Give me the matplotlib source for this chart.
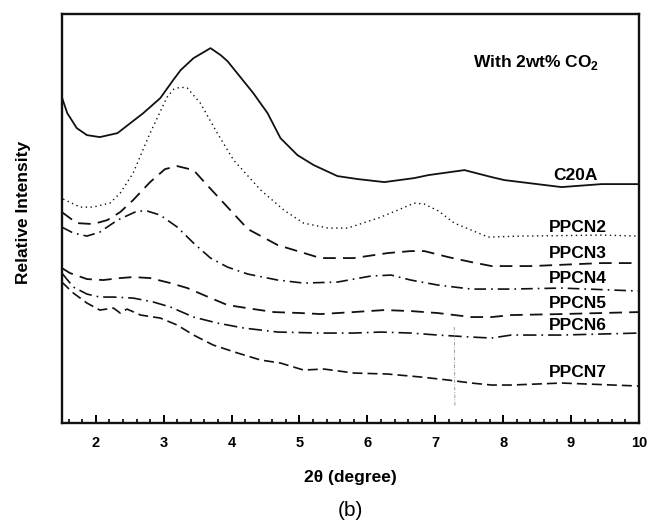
import matplotlib
matplotlib.use("Agg")
import matplotlib.pyplot as plt
from matplotlib.ticker import MultipleLocator

plt.rcParams['font.family'] = ['Liberation Sans', 'DejaVu Sans']
plt.rcParams['mathtext.fontset'] = 'custom'
plt.rcParams['mathtext.rm'] = 'Liberation Sans'
plt.rcParams['mathtext.bf'] = 'Liberation Sans:bold'

# ---- data (2theta in degrees, intensity in arbitrary units) ----
c20a_x = [1.50, 1.58, 1.72, 1.87, 2.06, 2.32, 2.70, 2.95, 3.14, 3.25, 3.44, 3.69, 3.84, 3.94,
          4.13, 4.32, 4.53, 4.72, 4.97, 5.21, 5.56, 5.86, 6.25, 6.69, 6.90, 7.43, 7.83,
          8.02, 8.86, 9.45, 10.0]
c20a_y = [326, 310, 295, 288, 286, 290, 310, 325, 343, 353, 365, 375, 368, 362,
          346, 330, 310, 285, 268, 258, 247, 244, 241, 245, 248, 253, 246,
          243, 236, 239, 239]

ppcn2_x = [1.52, 1.77, 1.96, 2.21, 2.36, 2.55, 2.80, 3.05, 3.15, 3.25, 3.35, 3.54, 3.79, 4.03,
           4.43, 4.77, 5.06, 5.42, 5.71, 6.16, 6.45, 6.69, 6.84, 7.05, 7.28, 7.78, 8.27,
           9.45, 10.0]
ppcn2_y = [224, 216, 216, 220, 230, 250, 290, 326, 334, 336, 335, 320, 290, 263,
           233, 213, 200, 195, 195, 205, 213, 220, 219, 212, 200, 186, 187,
           188, 187]

ppcn3_x = [1.50, 1.72, 1.96, 2.17, 2.36, 2.55, 2.80, 3.02, 3.20, 3.44, 3.64, 3.94, 4.24,
           4.68, 5.02, 5.31, 5.80, 6.30, 6.64, 6.84, 7.19, 7.53, 7.83, 8.42, 9.45, 10.0]
ppcn3_y = [211, 200, 199, 203, 211, 223, 241, 254, 257, 253, 238, 216, 194,
           178, 171, 165, 165, 170, 172, 172, 166, 161, 157, 157, 160, 160]

ppcn4_x = [1.50, 1.67, 1.87, 2.06, 2.32, 2.61, 2.76, 2.95, 3.20, 3.44, 3.69, 3.94,
           4.24, 4.68, 5.06, 5.56, 6.05, 6.35, 6.64, 7.04, 7.53, 8.12, 8.86, 10.0]
ppcn4_y = [196, 190, 187, 191, 203, 212, 212, 208, 196, 180, 165, 156,
           149, 143, 140, 141, 147, 148, 143, 138, 134, 134, 135, 132]

ppcn5_x = [1.50, 1.62, 1.87, 2.11, 2.36, 2.55, 2.80, 3.10, 3.35, 3.59, 3.94, 4.32,
           4.62, 5.02, 5.31, 5.80, 6.25, 6.64, 7.04, 7.53, 7.83, 8.12, 8.86, 10.0]
ppcn5_y = [155, 150, 144, 143, 145, 146, 145, 140, 135, 128, 118, 114,
           111, 110, 109, 111, 113, 112, 110, 106, 106, 108, 109, 111]

ppcn6_x = [1.50, 1.67, 1.87, 2.06, 2.26, 2.55, 2.85, 3.10, 3.44, 3.79, 4.18,
           4.68, 5.31, 5.80, 6.20, 6.64, 7.04, 7.53, 7.83, 8.12, 8.86, 10.0]
ppcn6_y = [150, 136, 129, 126, 126, 125, 121, 116, 106, 100, 95,
           91, 90, 90, 91, 90, 88, 86, 85, 88, 88, 90]

ppcn7_x = [1.50, 1.67, 1.87, 2.06, 2.26, 2.36, 2.46, 2.66, 2.95, 3.20, 3.44, 3.73, 4.09,
           4.43, 4.72, 5.06, 5.36, 5.80, 6.30, 6.79, 7.19, 7.53, 7.83, 8.12, 8.86, 10.0]
ppcn7_y = [141, 130, 120, 113, 115, 110, 114, 108, 105, 98, 88, 78, 70,
           63, 60, 53, 54, 50, 49, 46, 43, 40, 38, 38, 40, 37]

artifact_x = [7.28, 7.29]
artifact_y = [96, 16]

labels = ['C20A', 'PPCN2', 'PPCN3', 'PPCN4', 'PPCN5', 'PPCN6', 'PPCN7']
label_x = [8.74, 8.67, 8.67, 8.67, 8.67, 8.67, 8.67]
label_y = [248, 196, 170, 145, 120, 98, 51]

xticks = [2, 3, 4, 5, 6, 7, 8, 9, 10]

# ---- figure ----
fig = plt.figure(figsize=(6.48, 5.24), dpi=100)
ax = fig.add_axes([0.0954, 0.1927, 0.8906, 0.7803])

k = '#111111'
ax.plot(c20a_x, c20a_y, color=k, lw=1.3, ls='-')
ax.plot(ppcn2_x, ppcn2_y, color=k, lw=1.0, ls=(0, (1, 2.5)))
ax.plot(ppcn3_x, ppcn3_y, color=k, lw=1.3, ls=(0, (7, 4)))
ax.plot(ppcn4_x, ppcn4_y, color=k, lw=1.2, ls=(0, (7, 3, 1, 3)))
ax.plot(ppcn5_x, ppcn5_y, color=k, lw=1.3, ls=(0, (7, 4)))
ax.plot(ppcn6_x, ppcn6_y, color=k, lw=1.2, ls=(0, (8, 3, 1, 3)))
ax.plot(ppcn7_x, ppcn7_y, color=k, lw=1.2, ls=(0, (6, 3)))
ax.plot(artifact_x, artifact_y, color='#888888', lw=0.6, ls=(0, (4, 2, 1, 2)))

for t, x, y in zip(labels, label_x, label_y):
    ax.text(x, y, t, fontsize=12.5, fontweight='bold', ha='left', va='center')

ax.text(7.56, 361, r'With 2wt% CO$_\mathbf{2}$', fontsize=12.5, fontweight='bold',
        ha='left', va='center')

ax.set_xlim(1.5, 10)
ax.set_ylim(0, 409)
ax.set_xticks(xticks)
ax.set_xticklabels([str(v) for v in xticks], fontsize=10.5, fontweight='bold')
ax.xaxis.set_minor_locator(MultipleLocator(0.2))
ax.set_yticks([])
ax.tick_params(axis='x', which='major', direction='in', length=6, width=1.4, pad=9)
ax.tick_params(axis='x', which='minor', direction='in', length=3, width=1.2)
ax.tick_params(top=False)
for s in ax.spines.values():
    s.set_linewidth(1.7)
    s.set_color(k)

ax.set_xlabel('2θ (degree)', fontsize=12.5, fontweight='bold', labelpad=15)
ax.set_ylabel('Relative Intensity', fontsize=12.5, fontweight='bold')
ax.yaxis.set_label_coords(-0.053, 0.515)

fig.text(0.5401, 1 - 511 / 524, '(b)', fontsize=15, ha='center', va='center')

fig.savefig('out.png', dpi=100)
